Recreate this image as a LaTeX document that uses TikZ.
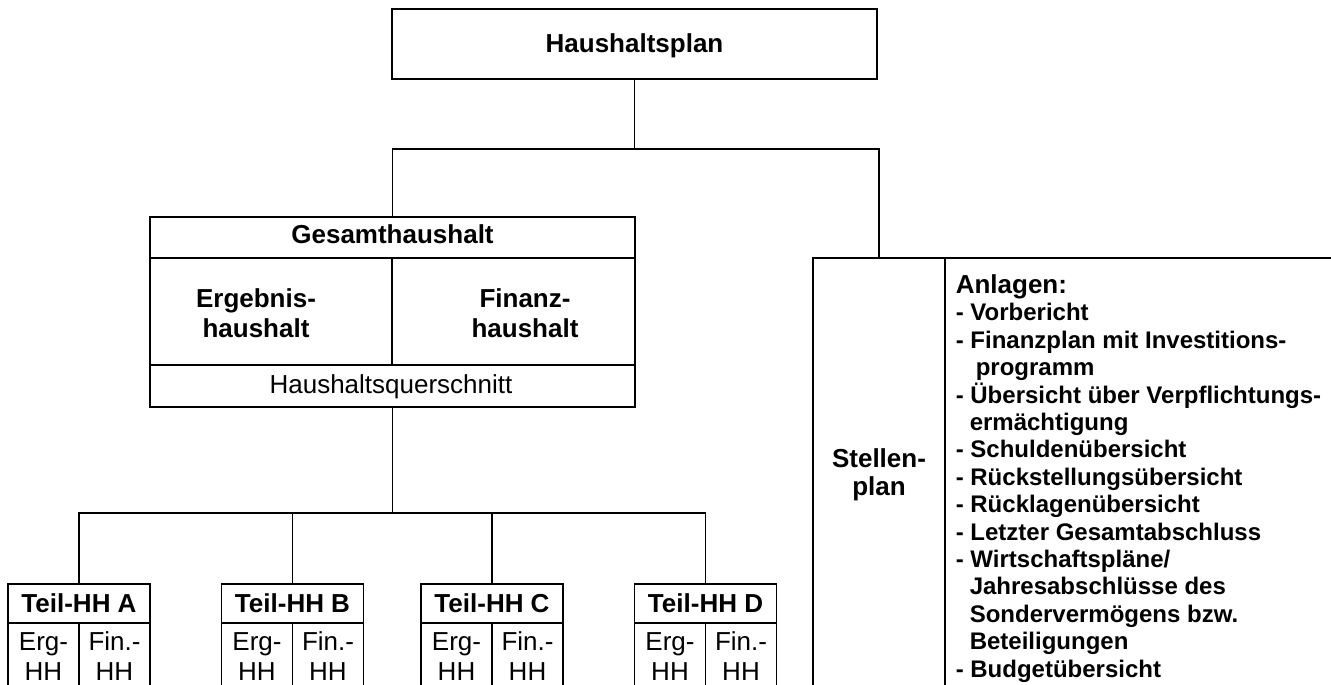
\documentclass[tikz,border=0pt]{standalone}
\usepackage{fontspec}
\setmainfont{Liberation Sans}
\begin{document}
\begin{tikzpicture}[x=0.75pt,y=-0.75pt,line width=1.15pt,
  cell/.style={draw,inner sep=0pt,outer sep=0pt},
  bt/.style={inner sep=0pt,align=center,font=\bfseries\fontsize{19.5pt}{22.5pt}\selectfont},
  rt/.style={inner sep=0pt,align=center,font=\fontsize{19.5pt}{22.5pt}\selectfont},
  listtxt/.style={inner sep=0pt,align=left,font=\bfseries\fontsize{18pt}{20.55pt}\selectfont}]
\useasboundingbox (0,0) rectangle (1331,685);
\clip (0,0) rectangle (1331,685);
% top
\node[cell,minimum width=485*0.75pt,minimum height=70*0.75pt] (plan) at (634.5,44) {};
\node[bt,anchor=base] (plantxt) at (634.5,53) {Haushaltsplan};
% Gesamthaushalt
\node[cell,minimum width=485*0.75pt,minimum height=41*0.75pt] (gh) at (392.5,237.5) {};
\node[cell,minimum width=242*0.75pt,minimum height=107*0.75pt] (erg) at (271,311.5) {};
\node[cell,minimum width=243*0.75pt,minimum height=107*0.75pt] (fin) at (513.5,311.5) {};
\node[cell,minimum width=485*0.75pt,minimum height=42*0.75pt] (quer) at (392.5,386) {};
\node[bt,anchor=base] (ghtxt) at (392.5,243) {Gesamthaushalt};
\node[bt,anchor=base] (ergtxt) at (256,337) {Ergebnis-\\haushalt};
\node[bt,anchor=base] (fintxt) at (525,337) {Finanz-\\haushalt};
\node[rt,anchor=base] (quertxt) at (391,393) {Haushaltsquerschnitt};
% Stellenplan and Anlagen
\node[cell,minimum width=132*0.75pt,minimum height=442*0.75pt] (st) at (879,479) {};
\node[cell,minimum width=400*0.75pt,minimum height=442*0.75pt] (an) at (1145,479) {};
\node[bt,anchor=base,font=\bfseries\fontsize{19.5pt}{21pt}\selectfont] (sttxt) at (879,495) {Stellen-\\plan};
\node[listtxt,anchor=base west] (antxt) at (955,677) {{\fontsize{19.5pt}{20.55pt}\selectfont Anlagen:}\\
- Vorbericht\\
- Finanzplan mit Investitions-\\
\hspace*{15pt}programm\\
- Übersicht über Verpflichtungs-\\
\hspace*{10.5pt}ermächtigung\\
- Schuldenübersicht\\
- Rückstellungsübersicht\\
- Rücklagenübersicht\\
- Letzter Gesamtabschluss\\
- Wirtschaftspläne/\\
\hspace*{10.5pt}Jahresabschlüsse des\\
\hspace*{10.5pt}Sondervermögens bzw.\\
\hspace*{10.5pt}Beteiligungen\\
- Budgetübersicht};
% Teilhaushalte
\foreach \n/\cx in {A/79,B/292.5,C/492,D/705.5}{
  \node[cell,minimum width=142*0.75pt,minimum height=39*0.75pt] (t\n) at (\cx,603.5) {};
  \node[cell,minimum width=71*0.75pt,minimum height=77*0.75pt] (e\n) at (\cx-35.5,661.5) {};
  \node[cell,minimum width=71*0.75pt,minimum height=77*0.75pt] (f\n) at (\cx+35.5,661.5) {};
  \node[bt,anchor=base] (tt\n) at (\cx,612) {Teil-HH \n};
  \node[rt,anchor=base] (et\n) at (\cx-35.5,680) {Erg-\\HH};
  \node[rt,anchor=base] (ft\n) at (\cx+35.5,680) {Fin.-\\HH};
}
% connectors
\coordinate (j1) at (634.5,149);
\coordinate (j2) at (392.5,513);
\draw (plan.south) -- (j1);
\draw (j1) -| (gh.north);
\draw (j1) -| (st.north);
\draw (quer.south) -- (j2);
\foreach \n in {A,B,C,D}{\draw (j2) -| (t\n.north);}
\end{tikzpicture}
\end{document}
